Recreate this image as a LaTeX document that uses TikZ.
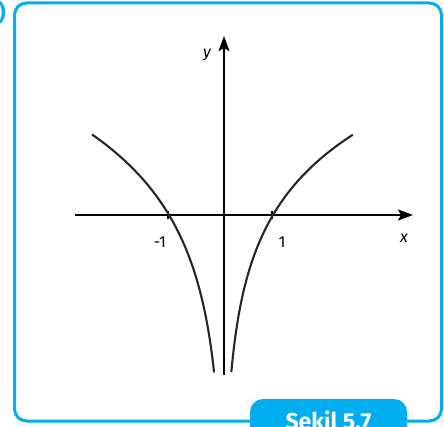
\documentclass[tikz,border=0pt]{standalone}
\usepackage{fontspec}
\setmainfont{Fira Sans}
\usetikzlibrary{arrows.meta}
\definecolor{sekilmavi}{RGB}{0,174,239}
\begin{document}
\begin{tikzpicture}[
x=1pt, y=-1pt,
frame/.style={draw=sekilmavi, line width=3pt, rounded corners=12pt},
axis/.style={line width=1.7pt, -{Stealth[length=15pt,width=11pt,inset=3pt]}},
curve/.style={line width=2.1pt, black!85},
lbl/.style={font=\fontsize{16}{16}\selectfont}
]
\useasboundingbox (0,0) rectangle (444,427);

% cerceve
\draw[frame] (14.5,3) rectangle (441.5,421);

\node[text=sekilmavi, anchor=east, inner sep=0pt,
font=\bfseries\fontsize{22}{22}\selectfont] (P) at (6,13) {)};

\node[fill=sekilmavi, text=white, rounded corners=13pt,
minimum width=157pt, minimum height=48pt, inner sep=0pt,
font=\bfseries\fontsize{23}{23}\selectfont] (S) at (328.5,423)
{Şekil 5.7};

% eksenler
\coordinate (xs) at (75,215);
\coordinate (xe) at (413,215);
\coordinate (ys) at (224,375);
\coordinate (ye) at (224,36);

\draw[axis] (xs) -- (xe);
\draw[axis] (ys) -- (ye);

\node[lbl] (X) at (404,238) {\itshape x};
\node[lbl] (Y) at (207,55) {\itshape y};
\node[lbl] (M) at (160,242) {-1};
\node[lbl] (U) at (282,242) {1};

\draw[line width=2pt] (168,211) -- (168,219);
\draw[line width=2pt] (272,211) -- (272,219);

% y = ln|x|
\draw[curve, domain=0.18:2.4, samples=100, smooth, variable=\t]
plot ({224-55*\t},{215-92*ln(\t)});
\draw[curve, domain=0.149:2.63, samples=100, smooth, variable=\t]
plot ({224+49*\t},{215-83*ln(\t)});

\end{tikzpicture}
\end{document}
